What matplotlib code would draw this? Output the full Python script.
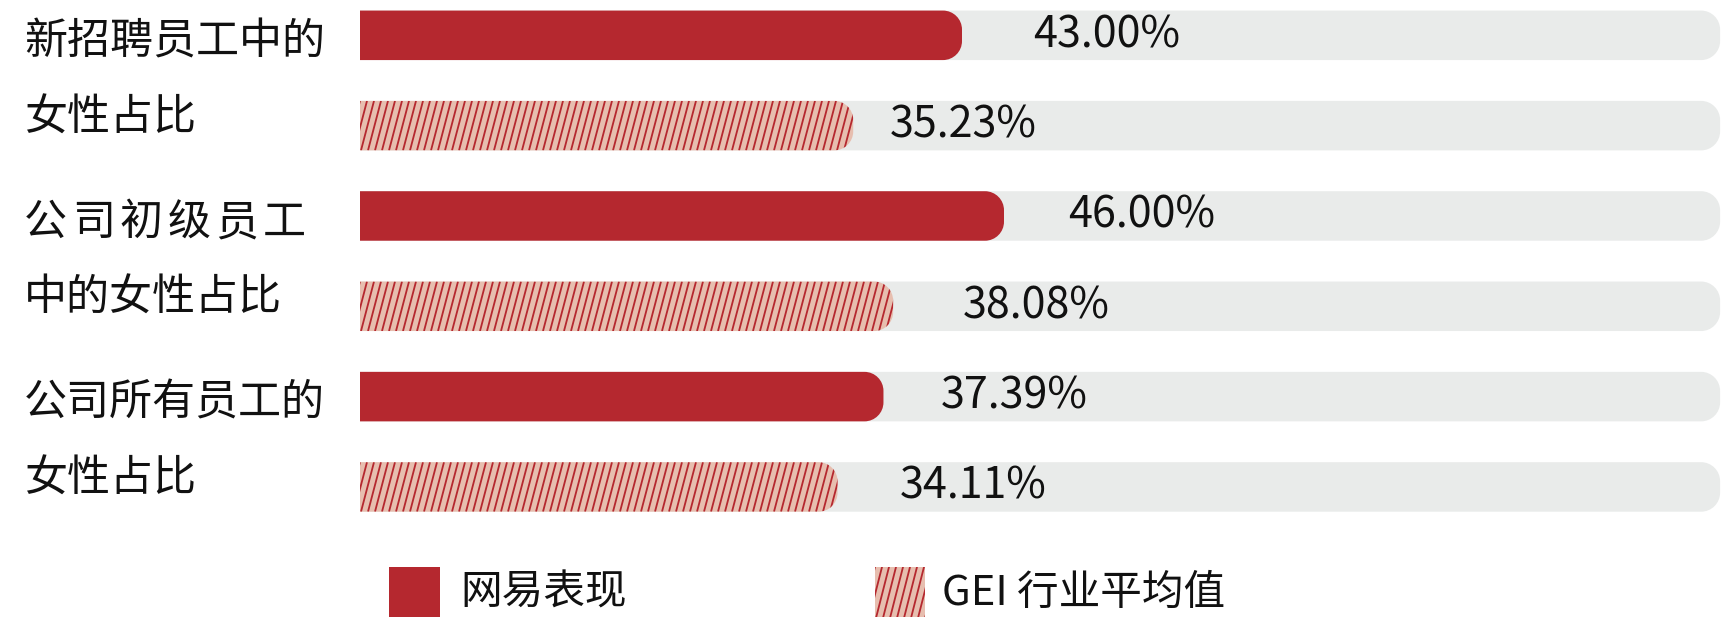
import numpy as np
import matplotlib.pyplot as plt
from matplotlib.path import Path
from matplotlib.patches import PathPatch, Rectangle
from matplotlib import transforms

plt.rcParams['font.family'] = ['Noto Sans CJK SC', 'DejaVu Sans']

# groups, two label lines each
group_lines = [
    ['新招聘员工中的', '女性占比'],
    ['公司初级员工', '中的女性占比'],
    ['公司所有员工的', '女性占比'],
]
netease = [43.00, 46.00, 37.39]   # 网易表现
gei_avg = [35.23, 38.08, 34.11]   # GEI 行业平均值
legend_labels = ['网易表现', 'GEI 行业平均值']

# gap between bar end and its value label (points)
label_gap = [51, 26, 46.5, 50, 41, 45]

RED = '#B5282F'
PINK = '#E7BEAF'
TRACK = '#E9EBEA'
TRACK_END = 97.15
BAR_H = 0.548
RADIUS = 19  # px

W, H, DPI = 1722, 617, 100
fig = plt.figure(figsize=(W / DPI, H / DPI), dpi=DPI)
ax = fig.add_axes([360 / W, 0, (W - 360) / W, 1])
ax.set_xlim(0, (W - 360) / 14.0)
ax.set_ylim(6.44, -0.391)
ax.axis('off')


def right_rounded(x0, x1, yc, h, **kw):
    # path with square left end and rounded right corners (radius in pixels)
    o = ax.transData.transform((0, 0))
    rx = RADIUS / abs(ax.transData.transform((1, 0))[0] - o[0])
    ry = RADIUS / abs(ax.transData.transform((0, 1))[1] - o[1])
    k = 0.5523
    y0, y1 = yc - h / 2, yc + h / 2
    verts = [(x0, y0), (x1 - rx, y0),
             (x1 - rx + k * rx, y0), (x1, y0 + ry - k * ry), (x1, y0 + ry),
             (x1, y1 - ry),
             (x1, y1 - ry + k * ry), (x1 - rx + k * rx, y1), (x1 - rx, y1),
             (x0, y1), (x0, y0)]
    codes = [Path.MOVETO, Path.LINETO,
             Path.CURVE4, Path.CURVE4, Path.CURVE4,
             Path.LINETO,
             Path.CURVE4, Path.CURVE4, Path.CURVE4,
             Path.LINETO, Path.CLOSEPOLY]
    p = PathPatch(Path(verts, codes), **kw)
    ax.add_patch(p)
    return p


def stripes(patch, x0, x1, yc, h):
    # steep red diagonal lines clipped to the patch
    step = 7.0 / 14.0
    shift = 13 / 14.0
    for xs in np.arange(x0 - shift, x1 + step, step):
        ln, = ax.plot([xs, xs + shift], [yc + h / 2, yc - h / 2], color=RED,
                      lw=1.3, solid_capstyle='butt')
        ln.set_clip_path(patch)


rows = []
for g in range(len(group_lines)):
    rows.append((netease[g], 'solid'))
    rows.append((gei_avg[g], 'hatch'))

for i, (val, kind) in enumerate(rows):
    right_rounded(0, TRACK_END, i, BAR_H, facecolor=TRACK, edgecolor='none')
    if kind == 'solid':
        right_rounded(0, val, i, BAR_H, facecolor=RED, edgecolor='none')
    else:
        p = right_rounded(0, val, i, BAR_H, facecolor=PINK, edgecolor='none')
        stripes(p, 0, val, i, BAR_H)
    ax.annotate(f'{val:.2f}%', (val, i), xytext=(label_gap[i], 0),
                textcoords='offset points', va='center', ha='left',
                fontsize=31, color='#111111')

# category labels on the left
lab_tr = transforms.blended_transform_factory(fig.transFigure, ax.transData)


def label_line(y, s, spread=False):
    if not spread:
        ax.text(24 / W, y, s, transform=lab_tr, va='center', ha='left',
                fontsize=31, color='#111111', clip_on=False)
        return
    # letter-spaced line, one glyph at a time
    for j, ch in enumerate(s):
        ax.annotate(ch, (24 / W, y), xycoords=lab_tr,
                    xytext=(j * 34.4, 0), textcoords='offset points',
                    va='center', ha='left', fontsize=31, color='#111111',
                    annotation_clip=False)


for g, lines in enumerate(group_lines):
    c = 2 * g + 0.5
    label_line(c - 0.42, lines[0], spread=(g == 1))
    label_line(c + 0.42, lines[1])


# legend, drawn in figure pixels
def fx(px):
    return px / W


def fy(py):
    return 1 - py / H


sq1 = Rectangle((fx(389), fy(618)), fx(51), 51 / H, transform=fig.transFigure,
                facecolor=RED, edgecolor='none')
fig.add_artist(sq1)
fig.text(fx(460), fy(593), legend_labels[0], fontsize=30, va='center',
         ha='left', color='#111111')

sq2 = Rectangle((fx(875), fy(618)), fx(50), 51 / H, transform=fig.transFigure,
                facecolor=PINK, edgecolor='none')
fig.add_artist(sq2)
for xs in np.arange(875 - 13, 925 + 7, 7.0):
    ln = plt.Line2D([fx(xs), fx(xs + 13)], [fy(618), fy(567)],
                    transform=fig.transFigure, color=RED, lw=1.3)
    ln.set_clip_path(sq2)
    fig.add_artist(ln)
fig.text(fx(942), fy(593), legend_labels[1], fontsize=30, va='center',
         ha='left', color='#111111')

fig.savefig('out.png', dpi=DPI)
